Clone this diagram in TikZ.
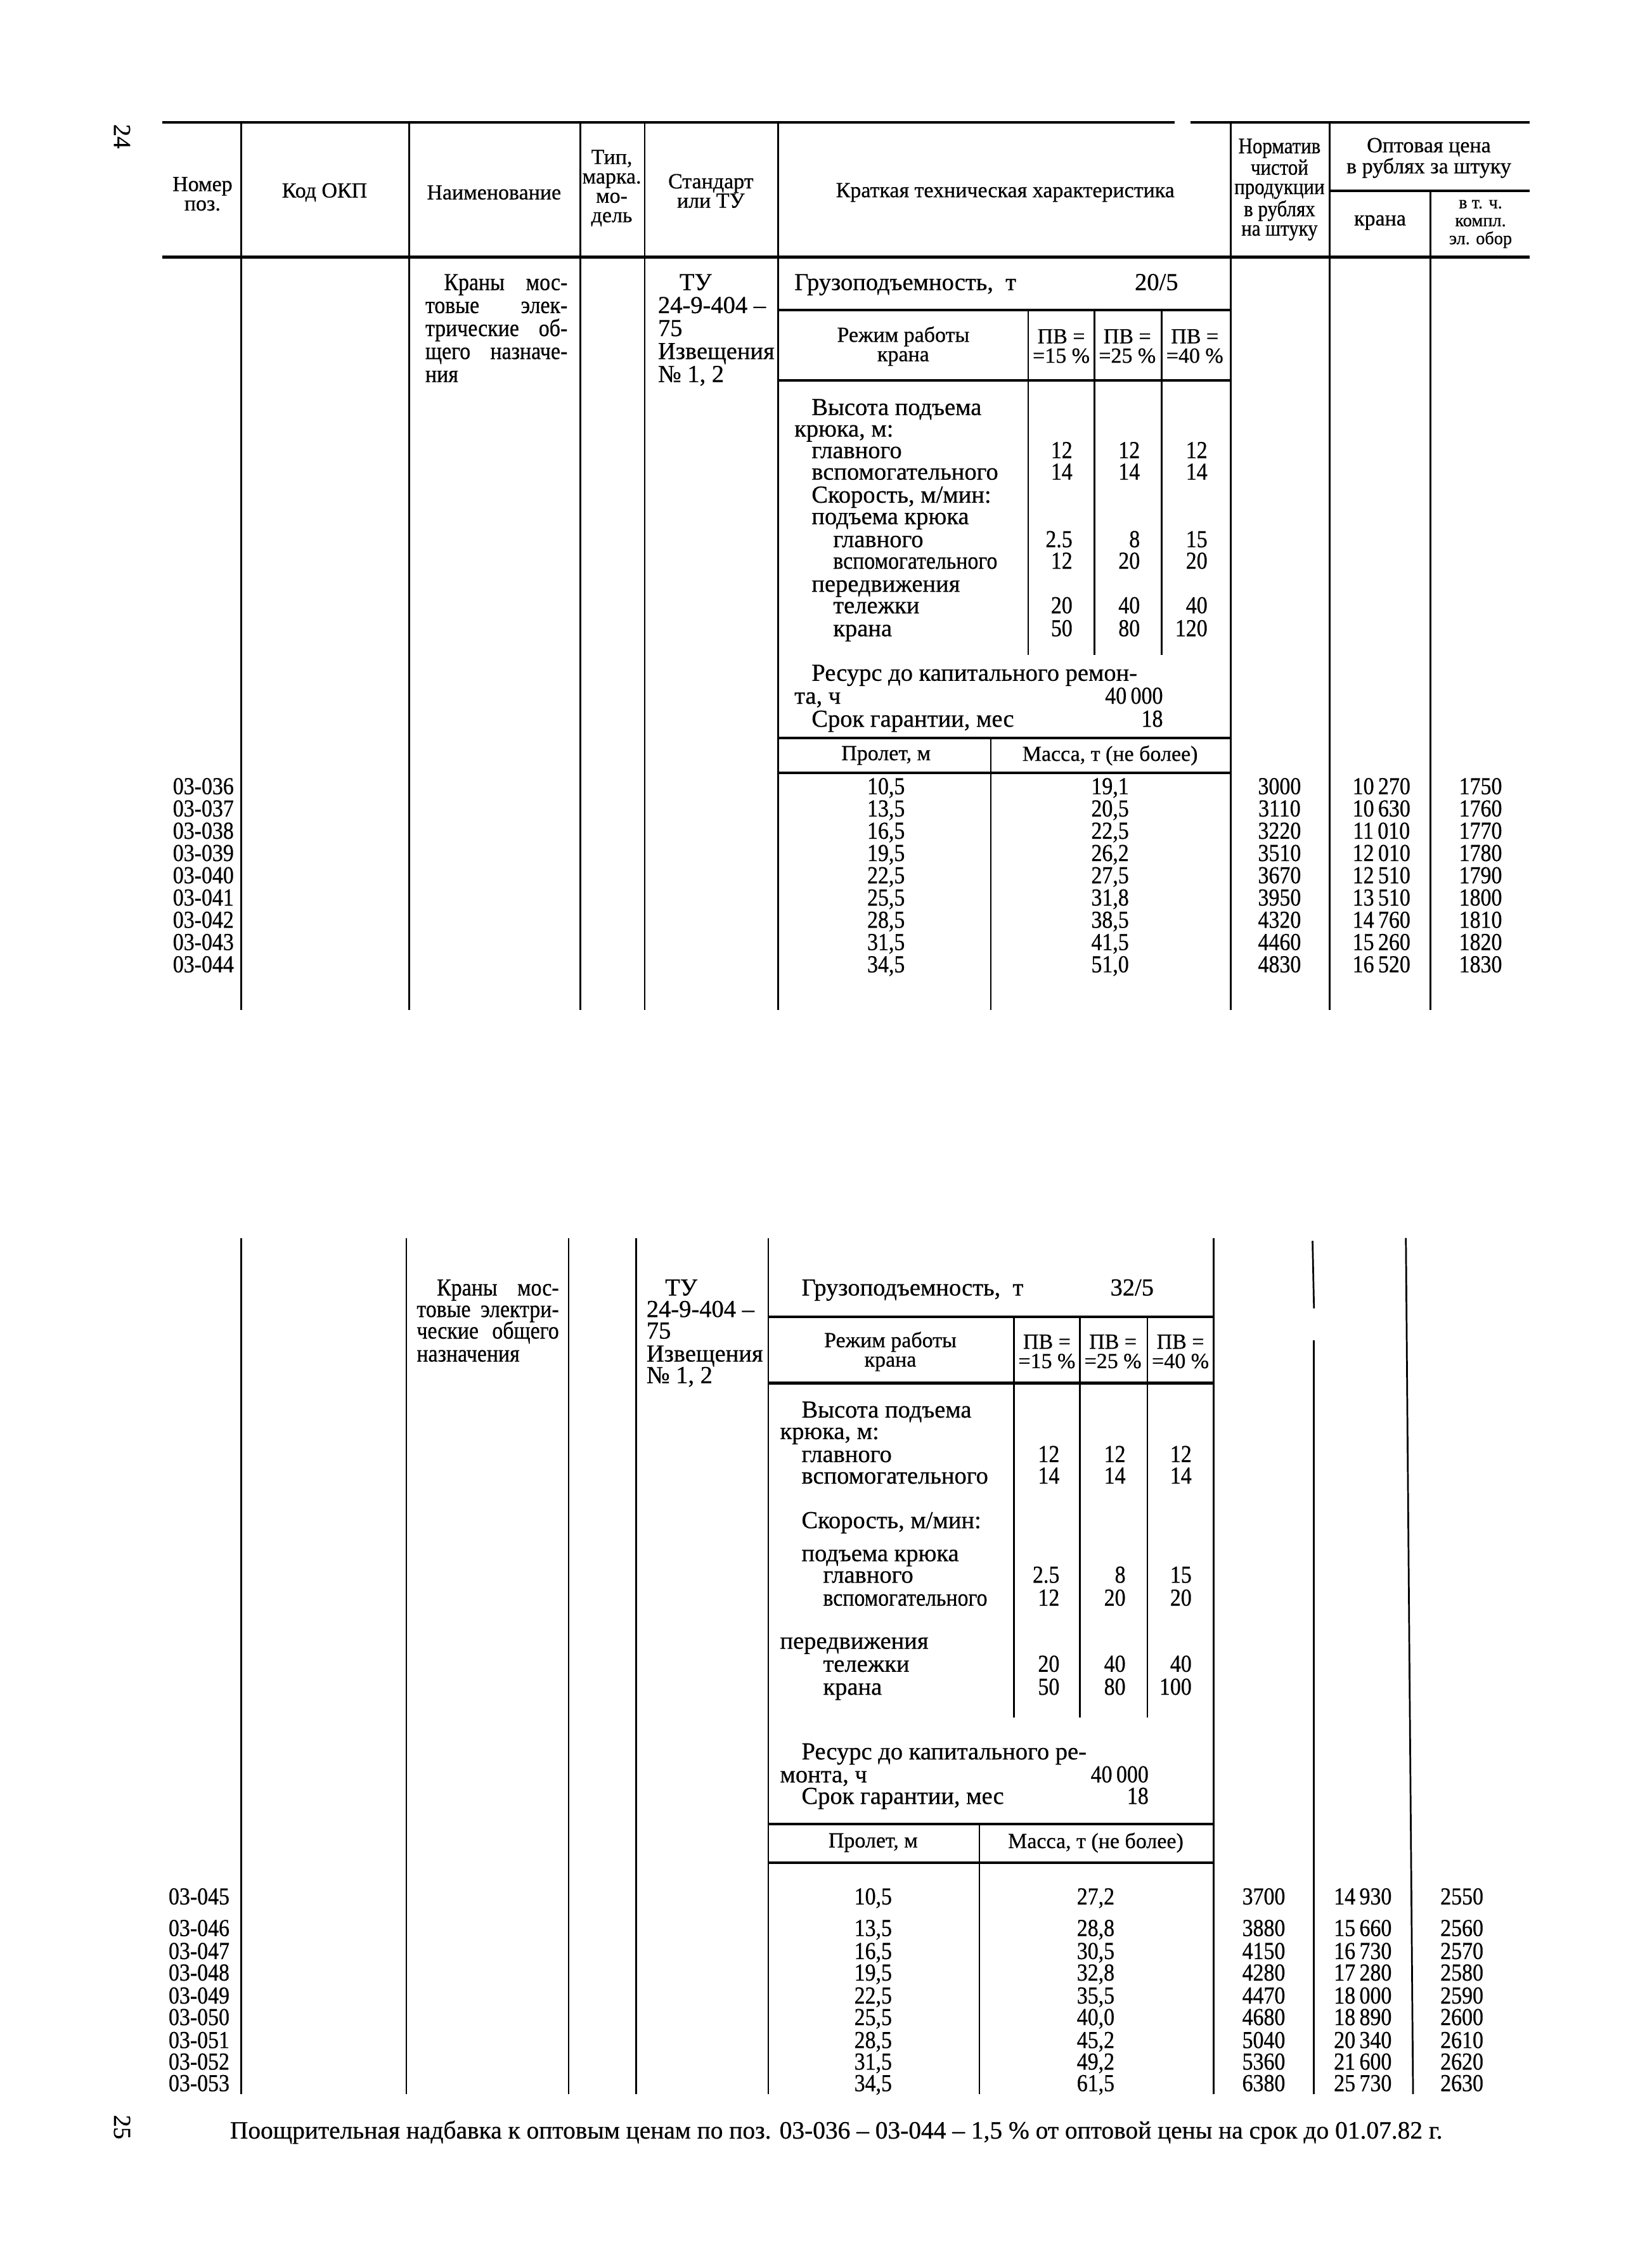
\documentclass[tikz,border=0pt]{standalone}
\usepackage{fontspec}
\setmainfont{Liberation Serif}[FakeBold=0.6]
\newfontfamily\condfam{Liberation Serif}[FakeStretch=0.88,FakeBold=0.6]
\newfontfamily\normfam{Liberation Serif}[FakeBold=0.6]
\newcommand\fntb{\normfam\fontsize{17}{15.5}\selectfont}
\newcommand\fntn{\condfam\fontsize{17}{15.5}\selectfont}
\newcommand\fnth{\normfam\fontsize{15}{13.5}\selectfont}
\newcommand\fntc{\condfam\fontsize{15.5}{13.5}\selectfont}
\newcommand\fnts{\normfam\fontsize{12.5}{12.5}\selectfont}
\begin{document}
\begin{tikzpicture}[x=1pt,y=-1pt,
  hr/.style={line width=1.8pt},
  vl/.style={line width=1.2pt},
  T/.style={inner sep=0,anchor=base west,font=\fntb},
  TC/.style={inner sep=0,anchor=base west,font=\fntn},
  R/.style={inner sep=0,anchor=base east,font=\fntn},
  C/.style={inner sep=0,anchor=base,font=\fntn},
  H/.style={inner sep=0,align=center,font=\fnth},
  S/.style={inner sep=0,align=center,font=\fnth}]
\useasboundingbox (0,0) rectangle (1150,1568);
\fill[white] (0,0) rectangle (1150,1568);

% page numbers
\node[inner sep=0,rotate=-90,font=\fntb] (pg1) at (85,95) {24};
\node[inner sep=0,rotate=-90,font=\fntb] (pg2) at (85,1481) {25};

% ================= TOP TABLE =================
\draw[hr] (113,85) -- (818,85);
\draw[hr] (829,85) -- (1065,85);
\draw[hr] (113,179) -- (1065,179);
\draw[hr] (926,133) -- (1065,133);
\foreach \x in {168,285,404,449,542,857,926}
  \draw[vl] (\x,85) -- (\x,703);
\draw[vl] (996,133) -- (996,703);

% header
\node[H] (h1) at (141,135) {Номер\\поз.};
\node[H] (h2) at (226,134) {Код ОКП};
\node[H] (h3) at (344,134) {Наименование};
\node[H] (h4) at (426,131) {Тип,\\марка.\\мо-\\дель};
\node[H] (h5) at (495,133) {Стандарт\\или ТУ};
\node[H] (h6) at (700,134) {Краткая техническая характеристика};
\node[H,font=\fntc] (h7) at (891,132) {Норматив\\чистой\\продукции\\в рублях\\на штуку};
\node[H] (h8) at (995,110) {Оптовая цена\\в рублях за штуку};
\node[S] (h9) at (961,155) {крана};
\node[S,font=\fnts] (h10) at (1031,156) {в т. ч.\\компл.\\эл. обор};

% name / standard
\node[TC] (n1) at (309,202) {\makebox[86pt][s]{Краны мос-}};
\node[TC] (n2) at (296,218) {\makebox[99pt][s]{товые элек-}};
\node[TC] (n3) at (296,234) {\makebox[99pt][s]{трические об-}};
\node[TC] (n4) at (296,250) {\makebox[99pt][s]{щего назначе-}};
\node[TC] (n5) at (296,266) {ния};
\node[T] (s1) at (473,202) {ТУ};
\node[T] (s2) at (458,218) {24-9-404 –};
\node[T] (s3) at (458,234) {75};
\node[T] (s4) at (458,250) {Извещения};
\node[T] (s5) at (458,266) {№ 1, 2};

% technical characteristics
\node[T] (g1) at (553,202) {Грузоподъемность,\enspace т};
\node[T] (g2) at (790,202) {20/5};
\draw[hr] (542,216) -- (857,216);
\draw[hr] (542,265) -- (857,265);
\foreach \x in {716,762,809} \draw[vl] (\x,216) -- (\x,456);
\node[S] (r0) at (629,241) {Режим работы\\крана};
\node[S] (r1) at (739,241) {ПВ =\\=15 \%};
\node[S] (r2) at (785,241) {ПВ =\\=25 \%};
\node[S] (r3) at (832,241) {ПВ =\\=40 \%};
\node[T] (t1) at (565,289) {Высота подъема};
\node[T] (t2) at (553,304) {крюка, м:};
\node[T] (t3) at (565,319) {главного};
\node[T] (t4) at (565,334) {вспомогательного};
\node[T] (t5) at (565,350) {Скорость, м/мин:};
\node[T] (t6) at (565,365) {подъема крюка};
\node[T] (t7) at (580,381) {главного};
\node[TC] (t8) at (580,396) {вспомогательного};
\node[T] (t9) at (565,412) {передвижения};
\node[T] (t10) at (580,427) {тележки};
\node[T] (t11) at (580,443) {крана};
\foreach \y/\a/\b/\c [count=\k] in {319/12/12/12,334/14/14/14,381/2.5/8/15,396/12/20/20,427/20/40/40,443/50/80/120}{
  \node[R] (va\k) at (747,\y) {\a};
  \node[R] (vb\k) at (794,\y) {\b};
  \node[R] (vc\k) at (841,\y) {\c};
}
\node[T] (u1) at (565,474) {Ресурс до капитального ремон-};
\node[T] (u2) at (553,490) {та, ч};
\node[R] (u3) at (810,490) {40\,000};
\node[T] (u4) at (565,506) {Срок гарантии, мес};
\node[R] (u5) at (810,506) {18};
\draw[hr] (542,514) -- (857,514);
\draw[hr] (542,538) -- (857,538);
\draw[vl] (690,514) -- (690,703);
\node[S] (p1) at (617,526) {Пролет, м};
\node[S] (p2) at (773,526) {Масса, т (не более)};

\foreach \p/\s/\m/\n/\c/\i [count=\k] in {
  03-036/{10,5}/{19,1}/3000/{10\,270}/1750,
  03-037/{13,5}/{20,5}/3110/{10\,630}/1760,
  03-038/{16,5}/{22,5}/3220/{11\,010}/1770,
  03-039/{19,5}/{26,2}/3510/{12\,010}/1780,
  03-040/{22,5}/{27,5}/3670/{12\,510}/1790,
  03-041/{25,5}/{31,8}/3950/{13\,510}/1800,
  03-042/{28,5}/{38,5}/4320/{14\,760}/1810,
  03-043/{31,5}/{41,5}/4460/{15\,260}/1820,
  03-044/{34,5}/{51,0}/4830/{16\,520}/1830}{
  \pgfmathsetmacro\yy{553+15.5*(\k-1)}
  \node[R] (ap\k) at (163,\yy) {\p};
  \node[C] (as\k) at (617,\yy) {\s};
  \node[C] (am\k) at (773,\yy) {\m};
  \node[C] (an\k) at (891,\yy) {\n};
  \node[C] (ac\k) at (962,\yy) {\c};
  \node[C] (ai\k) at (1031,\yy) {\i};
}

% ================= BOTTOM TABLE =================
\foreach \x in {168,283,396,443,535,845}
  \draw[vl] (\x,862) -- (\x,1458);
\draw[vl] (914,864) -- (915,911);
\draw[vl] (915,933) -- (915,1458);
\draw[vl] (979,862) -- (984,1458);

\node[TC] (bn1) at (304,902) {\makebox[85pt][s]{Краны мос-}};
\node[TC] (bn2) at (290,917) {\makebox[99pt][s]{товые электри-}};
\node[TC] (bn3) at (290,932) {\makebox[99pt][s]{ческие общего}};
\node[TC] (bn4) at (290,948) {назначения};
\node[T] (bs1) at (463,902) {ТУ};
\node[T] (bs2) at (450,917) {24-9-404 –};
\node[T] (bs3) at (450,932) {75};
\node[T] (bs4) at (450,948) {Извещения};
\node[T] (bs5) at (450,963) {№ 1, 2};

\node[T] (bg1) at (558,902) {Грузоподъемность,\enspace т};
\node[T] (bg2) at (773,902) {32/5};
\draw[hr] (535,917) -- (845,917);
\draw[hr] (535,963) -- (845,963);
\foreach \x in {706,752,799} \draw[vl] (\x,917) -- (\x,1196);
\node[S] (br0) at (620,941) {Режим работы\\крана};
\node[S] (br1) at (729,941) {ПВ =\\=15 \%};
\node[S] (br2) at (775,941) {ПВ =\\=25 \%};
\node[S] (br3) at (822,941) {ПВ =\\=40 \%};
\node[T] (bt1) at (558,987) {Высота подъема};
\node[T] (bt2) at (543,1002) {крюка, м:};
\node[T] (bt3) at (558,1018) {главного};
\node[T] (bt4) at (558,1033) {вспомогательного};
\node[T] (bt5) at (558,1064) {Скорость, м/мин:};
\node[T] (bt6) at (558,1087) {подъема крюка};
\node[T] (bt7) at (573,1102) {главного};
\node[TC] (bt8) at (573,1118) {вспомогательного};
\node[T] (bt9) at (543,1148) {передвижения};
\node[T] (bt10) at (573,1164) {тележки};
\node[T] (bt11) at (573,1180) {крана};
\foreach \y/\a/\b/\c [count=\k] in {1018/12/12/12,1033/14/14/14,1102/2.5/8/15,1118/12/20/20,1164/20/40/40,1180/50/80/100}{
  \node[R] (bva\k) at (738,\y) {\a};
  \node[R] (bvb\k) at (784,\y) {\b};
  \node[R] (bvc\k) at (830,\y) {\c};
}
\node[T] (bu1) at (558,1225) {Ресурс до капитального ре-};
\node[T] (bu2) at (543,1241) {монта, ч};
\node[R] (bu3) at (800,1241) {40\,000};
\node[T] (bu4) at (558,1256) {Срок гарантии, мес};
\node[R] (bu5) at (800,1256) {18};
\draw[hr] (535,1270) -- (845,1270);
\draw[hr] (535,1297) -- (845,1297);
\draw[vl] (682,1270) -- (682,1458);
\node[S] (bp1) at (608,1283) {Пролет, м};
\node[S] (bp2) at (763,1283) {Масса, т (не более)};

\foreach \p/\s/\m/\n/\c/\i/\yy [count=\k] in {
  03-045/{10,5}/{27,2}/3700/{14\,930}/2550/1326,
  03-046/{13,5}/{28,8}/3880/{15\,660}/2560/1348,
  03-047/{16,5}/{30,5}/4150/{16\,730}/2570/1364,
  03-048/{19,5}/{32,8}/4280/{17\,280}/2580/1379,
  03-049/{22,5}/{35,5}/4470/{18\,000}/2590/1395,
  03-050/{25,5}/{40,0}/4680/{18\,890}/2600/1410,
  03-051/{28,5}/{45,2}/5040/{20\,340}/2610/1426,
  03-052/{31,5}/{49,2}/5360/{21\,600}/2620/1441,
  03-053/{34,5}/{61,5}/6380/{25\,730}/2630/1456}{
  \node[R] (bp\k) at (160,\yy) {\p};
  \node[C] (bs\k) at (608,\yy) {\s};
  \node[C] (bm\k) at (763,\yy) {\m};
  \node[C] (bn\k) at (880,\yy) {\n};
  \node[C] (bc\k) at (949,\yy) {\c};
  \node[C] (bi\k) at (1018,\yy) {\i};
}

% footnote
\node[inner sep=0,anchor=base west,font=\normfam\fontsize{17.4}{18}\selectfont] (foot) at (160,1489) {Поощрительная надбавка к оптовым ценам по поз. 03-036 – 03-044 – 1,5 \% от оптовой цены на срок до 01.07.82 г.};
\end{tikzpicture}
\end{document}
